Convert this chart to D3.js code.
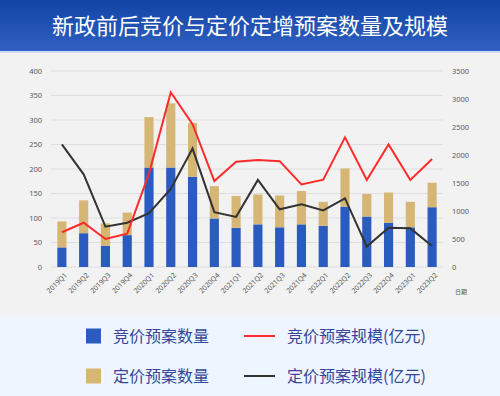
<!DOCTYPE html>
<html>
<head>
<meta charset="utf-8">
<script src="https://cdn.jsdelivr.net/npm/d3@7"></script>
<style>
  body { margin: 0; background: #f2f2f2; }
  svg { display: block; font-family: "Noto Sans CJK SC", "Noto Sans", sans-serif; }
</style>
</head>
<body>
<svg width="500" height="396"></svg>
<script>
var quarters = ["2019Q1","2019Q2","2019Q3","2019Q4","2020Q1","2020Q2","2020Q3","2020Q4",
  "2021Q1","2021Q2","2021Q3","2021Q4","2022Q1","2022Q2","2022Q3","2022Q4","2023Q1","2023Q2"];
// 竞价预案数量
var bidCount = [40, 69, 43, 65, 203, 203, 184, 99, 80, 87, 81, 87, 84, 123, 103, 90, 81, 122];
// 定价预案数量
var fixCount = [53, 67, 46, 46, 103, 131, 110, 66, 65, 61, 65, 68, 49, 78, 46, 62, 52, 50];
// 竞价预案规模(亿元)
var bidScale = [620, 790, 500, 595, 1670, 3120, 2550, 1535, 1880, 1910, 1890, 1475, 1560, 2315, 1555, 2190, 1555, 1930];
// 定价预案规模(亿元)
var fixScale = [2190, 1655, 720, 790, 960, 1395, 2115, 980, 895, 1555, 1030, 1120, 1010, 1225, 365, 700, 690, 375];
var leftTicks = [0, 50, 100, 150, 200, 250, 300, 350, 400];
var rightTicks = [0, 500, 1000, 1500, 2000, 2500, 3000, 3500];

var svg = d3.select("svg");

var defs = svg.append("defs");
var grad = defs.append("linearGradient").attr("id", "hdr").attr("x1", 0).attr("y1", 0).attr("x2", 0).attr("y2", 1);
grad.append("stop").attr("offset", "0%").attr("stop-color", "#1244a6");
grad.append("stop").attr("offset", "100%").attr("stop-color", "#2f60c2");

// header
svg.append("rect").attr("width", 500).attr("height", 51).attr("fill", "url(#hdr)");
svg.append("rect").attr("y", 51).attr("width", 500).attr("height", 2).attr("fill", "#cfdcf2");
svg.append("text")
    .attr("x", 250).attr("y", 34)
    .attr("text-anchor", "middle")
    .attr("fill", "#fff")
    .attr("font-size", 22)
    .text("新政前后竞价与定价定增预案数量及规模");

// chart area background
svg.append("rect").attr("y", 53).attr("width", 500).attr("height", 263).attr("fill", "#f2f2f2");
// legend background
svg.append("rect").attr("y", 316).attr("width", 500).attr("height", 80).attr("fill", "#eef5ff");

var plotLeft = 51, plotRight = 443, plotTop = 71, plotBottom = 267;

var x = d3.scaleBand().domain(quarters).range([plotLeft, plotRight]).paddingInner(0.58).paddingOuter(0.29);
var yL = d3.scaleLinear().domain([0, 400]).range([plotBottom, plotTop]);
var yR = d3.scaleLinear().domain([0, 3500]).range([plotBottom, plotTop]);

// grid
svg.append("g")
  .selectAll("line")
  .data(leftTicks)
  .join("line")
    .attr("x1", plotLeft).attr("x2", plotRight)
    .attr("y1", function(d) { return yL(d); })
    .attr("y2", function(d) { return yL(d); })
    .attr("stroke", "#dedede")
    .attr("stroke-width", 1);

// axes
var yAxisL = d3.axisLeft(yL).tickValues(leftTicks).tickSize(0).tickPadding(9).tickFormat(d3.format("d"));
var yAxisR = d3.axisRight(yR).tickValues(rightTicks).tickSize(0).tickPadding(9).tickFormat(d3.format("d"));

var gl = svg.append("g").attr("transform", "translate(" + plotLeft + ",0)").call(yAxisL);
var gr = svg.append("g").attr("transform", "translate(" + plotRight + ",0)").call(yAxisR);
[gl, gr].forEach(function(g) {
  g.select(".domain").remove();
  g.selectAll("text").attr("fill", "#595959").attr("font-size", 7.5)
    .attr("font-family", "'Noto Sans', sans-serif");
});

var xAxis = d3.axisBottom(x).tickSize(0).tickPadding(4);
var gx = svg.append("g").attr("transform", "translate(0," + plotBottom + ")").call(xAxis);
gx.select(".domain").remove();
gx.selectAll("text")
    .attr("fill", "#595959")
    .attr("font-size", 7)
    .attr("font-family", "'Noto Sans', sans-serif")
    .attr("text-anchor", "end")
    .attr("x", 0).attr("y", 0)
    .attr("dy", "0.35em")
    .attr("transform", "translate(4,7) rotate(-45)");

svg.append("text")
    .attr("x", 455).attr("y", 294)
    .attr("fill", "#595959")
    .attr("font-size", 6)
    .text("日期");

// stacked bars
var bars = svg.append("g");
bars.selectAll(".bid")
  .data(quarters)
  .join("rect")
    .attr("class", "bid")
    .attr("x", function(d) { return x(d); })
    .attr("width", x.bandwidth())
    .attr("y", function(d, i) { return yL(bidCount[i]); })
    .attr("height", function(d, i) { return yL(0) - yL(bidCount[i]); })
    .attr("fill", "#2a5bbe");
bars.selectAll(".fix")
  .data(quarters)
  .join("rect")
    .attr("class", "fix")
    .attr("x", function(d) { return x(d); })
    .attr("width", x.bandwidth())
    .attr("y", function(d, i) { return yL(bidCount[i] + fixCount[i]); })
    .attr("height", function(d, i) { return yL(bidCount[i]) - yL(bidCount[i] + fixCount[i]); })
    .attr("fill", "#d5b674");

// lines
var line = d3.line()
    .x(function(d, i) { return x(quarters[i]) + x.bandwidth() / 2; })
    .y(function(d) { return yR(d); });

svg.append("path")
    .datum(fixScale)
    .attr("d", line)
    .attr("fill", "none")
    .attr("stroke", "#333333")
    .attr("stroke-width", 2);
svg.append("path")
    .datum(bidScale)
    .attr("d", line)
    .attr("fill", "none")
    .attr("stroke", "#ff2a2a")
    .attr("stroke-width", 2);

// legend
var legend = [
  {label: "竞价预案数量", type: "rect", color: "#2a5bbe", x: 86, y: 336},
  {label: "定价预案数量", type: "rect", color: "#d5b674", x: 86, y: 376},
  {label: "竞价预案规模(亿元)", type: "line", color: "#ff2a2a", x: 244, y: 336},
  {label: "定价预案规模(亿元)", type: "line", color: "#333333", x: 244, y: 376}
];
var lg = svg.append("g").selectAll("g").data(legend).join("g")
    .attr("transform", function(d) { return "translate(" + d.x + "," + d.y + ")"; });
lg.filter(function(d) { return d.type === "rect"; })
  .append("rect")
    .attr("y", -7.5).attr("width", 15).attr("height", 15)
    .attr("fill", function(d) { return d.color; });
lg.filter(function(d) { return d.type === "line"; })
  .append("line")
    .attr("x1", 0).attr("x2", 31)
    .attr("stroke", function(d) { return d.color; })
    .attr("stroke-width", 2);
lg.append("text")
    .attr("x", function(d) { return d.type === "rect" ? 27 : 43; })
    .attr("y", 0)
    .attr("dy", "0.36em")
    .attr("fill", "#34479a")
    .attr("font-size", 16)
    .text(function(d) { return d.label; });
</script>
</body>
</html>
